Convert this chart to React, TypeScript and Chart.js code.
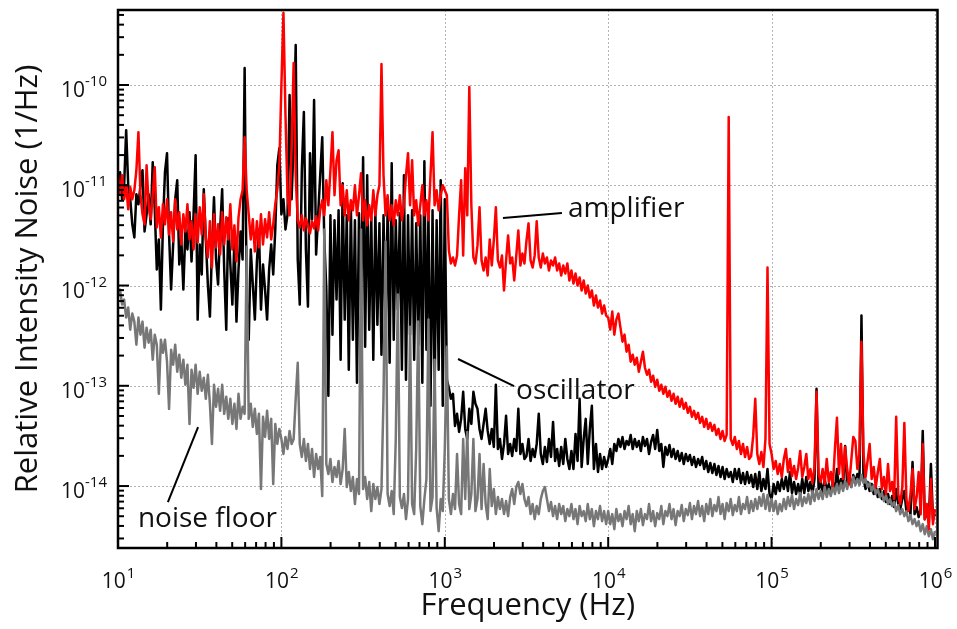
import { useEffect, useRef } from "react";
import { Chart, registerables } from "chart.js";

Chart.register(...registerables);

// Spectra are sampled at 80 points per decade; values are log10 of RIN (1/Hz).
const SAMPLES_PER_DECADE = 80;
const decadeStarts = [1, 2, 3, 4, 5]; // log10(Hz) at start of each decade block

// ---------- amplifier (red) ----------
const amplifierD1 = [
  -10.90, -11.09, -10.90, -11.14, -11.00, -11.24, -11.02, -11.14, -11.05, -10.85,
  -10.47, -11.09, -11.29, -11.39, -10.80, -11.19, -11.34, -11.09, -10.82, -11.42,
  -11.22, -11.52, -11.19, -11.39, -11.14, -11.49, -11.27, -11.56, -11.14, -11.44,
  -11.27, -11.59, -11.29, -11.46, -11.19, -11.54, -11.36, -11.64, -11.29, -11.57,
  -11.22, -11.49, -11.09, -11.52, -11.72, -11.36, -11.82, -11.29, -11.62, -11.39,
  -11.69, -11.27, -11.59, -11.32, -11.54, -11.19, -11.64, -11.40, -11.76, -11.32,
  -11.14, -11.05, -10.52, -11.05, -11.29, -11.54, -11.34, -11.66, -11.36, -11.62,
  -11.29, -11.59, -11.34, -11.52, -11.27, -11.54, -11.39, -11.19, -11.04, -10.80,
];
const amplifierD2 = [
  -10.00, -9.28, -10.30, -11.10, -11.30, -10.60, -9.78, -10.90, -11.35, -11.42,
  -11.30, -11.45, -11.33, -11.40, -11.48, -11.36, -11.43, -11.31, -11.45, -11.25,
  -11.15, -11.30, -10.95, -11.20, -10.85, -10.47, -11.10, -10.75, -10.65, -11.20,
  -11.00, -11.30, -11.05, -11.35, -11.15, -11.25, -11.00, -11.30, -11.10, -10.88,
  -11.35, -11.15, -11.40, -11.20, -11.35, -11.05, -11.30, -11.10, -11.00, -9.79,
  -10.90, -11.30, -11.10, -11.35, -11.20, -11.40, -11.15, -11.30, -11.10, -11.35,
  -11.20, -10.90, -10.68, -11.20, -10.75, -11.30, -11.15, -11.40, -11.20, -11.00,
  -11.30, -11.15, -11.35, -10.90, -10.47, -11.20, -11.05, -11.25, -11.10, -11.00,
];
const amplifierD3 = [
  -11.05, -11.10, -11.65, -11.78, -11.72, -11.80, -11.70, -11.30, -10.95, -11.70,
  -10.83, -11.30, -10.02, -11.20, -11.72, -11.78, -11.60, -11.22, -11.75, -11.85,
  -11.72, -11.90, -11.54, -11.80, -11.55, -11.22, -11.75, -11.82, -11.70, -12.05,
  -11.75, -11.50, -11.78, -11.72, -11.95, -11.70, -11.45, -11.80, -11.68, -11.78,
  -11.55, -11.38, -11.75, -11.82, -11.70, -11.36, -11.72, -11.82, -11.68, -11.78,
  -11.72, -11.85, -11.75, -11.80, -11.72, -11.85, -11.78, -11.90, -11.80, -11.88,
  -11.78, -11.95, -11.85, -11.98, -11.88, -12.00, -11.92, -12.05, -11.95, -12.08,
  -12.00, -12.12, -12.05, -12.20, -12.10, -12.22, -12.15, -12.28, -12.20, -12.30,
];
const amplifierD4 = [
  -12.32, -12.44, -12.26, -12.49, -12.34, -12.28, -12.42, -12.56, -12.49, -12.66,
  -12.59, -12.76, -12.69, -12.79, -12.72, -12.86, -12.76, -12.66, -12.82, -12.89,
  -12.84, -12.96, -12.90, -13.01, -12.94, -13.05, -12.99, -13.08, -13.01, -13.11,
  -13.05, -13.15, -13.08, -13.18, -13.11, -13.21, -13.13, -13.23, -13.17, -13.27,
  -13.21, -13.31, -13.25, -13.33, -13.27, -13.37, -13.31, -13.41, -13.33, -13.43,
  -13.37, -13.45, -13.39, -13.49, -13.43, -13.53, -13.45, -13.55, -13.49, -10.32,
  -13.53, -13.59, -13.51, -13.63, -13.55, -13.68, -13.58, -13.71, -13.61, -13.73,
  -13.70, -13.50, -13.13, -13.68, -13.78, -13.66, -13.81, -13.53, -11.82, -13.58,
];
const amplifierD5 = [
  -13.68, -13.83, -13.75, -13.88, -13.78, -13.91, -13.73, -13.63, -13.86, -13.73,
  -13.90, -13.80, -13.93, -13.82, -13.65, -13.91, -13.81, -13.68, -13.93, -13.83,
  -13.97, -13.81, -13.06, -13.88, -13.96, -13.83, -13.98, -13.73, -13.96, -13.86,
  -14.00, -13.63, -13.32, -13.88, -13.58, -13.93, -13.61, -13.83, -13.98, -13.75,
  -13.51, -13.55, -13.83, -13.68, -12.56, -13.68, -13.91, -13.75, -13.58, -13.93,
  -13.81, -14.01, -13.86, -13.73, -14.03, -13.91, -14.08, -13.78, -14.05, -13.96,
  -14.13, -13.31, -14.08, -14.18, -14.01, -13.37, -14.13, -14.25, -14.08, -13.83,
  -14.23, -14.11, -13.86, -14.28, -13.58, -14.33, -14.18, -14.43, -13.93, -14.38,
  -14.23,
];

// ---------- oscillator (black) ----------
const oscillatorD1 = [
  -11.04, -10.87, -11.14, -11.00, -10.45, -11.00, -11.14, -11.39, -11.52, -11.09,
  -11.19, -11.00, -10.85, -11.46, -11.29, -11.09, -11.39, -10.77, -11.24, -11.84,
  -11.54, -12.24, -11.39, -10.87, -10.68, -11.49, -12.04, -11.59, -11.14, -10.95,
  -11.79, -11.54, -12.04, -11.44, -11.64, -11.27, -11.76, -11.29, -10.70, -12.34,
  -11.59, -11.89, -11.04, -11.54, -11.99, -12.31, -11.64, -11.12, -11.74, -11.99,
  -11.44, -11.04, -11.84, -12.44, -11.33, -11.79, -12.19, -11.54, -12.36, -11.84,
  -11.46, -11.74, -9.83, -12.14, -12.54, -11.64, -11.99, -12.34, -11.76, -11.44,
  -12.24, -11.79, -12.04, -12.34, -11.84, -11.59, -11.89, -11.44, -10.80, -10.63,
];
const oscillatorD2 = [
  -11.29, -11.14, -11.44, -11.29, -10.10, -11.14, -10.55, -9.60, -11.74, -12.19,
  -10.85, -10.27, -11.64, -12.21, -10.68, -11.34, -10.15, -11.69, -11.29, -10.90,
  -10.52, -11.54, -12.04, -13.10, -11.30, -12.49, -11.35, -12.14, -11.25, -12.74,
  -10.98, -12.34, -11.30, -12.84, -11.20, -12.54, -11.35, -12.97, -11.28, -12.24,
  -10.72, -12.61, -10.90, -12.44, -11.32, -12.74, -11.25, -12.39, -11.38, -12.69,
  -11.30, -12.44, -11.25, -12.77, -10.78, -12.54, -11.35, -12.24, -11.28, -12.84,
  -10.90, -12.94, -11.30, -12.49, -11.25, -12.74, -11.38, -12.59, -11.30, -12.97,
  -10.76, -12.64, -11.30, -13.20, -11.25, -13.10, -11.35, -12.84, -10.95, -13.20,
];
const oscillatorD3 = [
  -11.14, -12.94, -13.02, -13.13, -13.08, -13.40, -13.28, -13.46, -13.33, -13.06,
  -13.43, -13.53, -13.23, -13.38, -13.06, -13.18, -13.23, -13.43, -13.53, -13.38,
  -13.23, -13.45, -13.58, -13.43, -13.61, -12.99, -13.63, -13.53, -13.73, -13.58,
  -13.30, -13.68, -13.58, -13.70, -13.53, -13.65, -13.23, -13.68, -13.58, -13.73,
  -13.70, -13.53, -13.75, -13.63, -13.71, -13.58, -13.28, -13.68, -13.78, -13.61,
  -13.76, -13.53, -13.71, -13.36, -13.75, -13.63, -13.80, -13.61, -13.78, -13.53,
  -13.73, -13.83, -13.65, -13.83, -13.48, -13.75, -13.13, -13.81, -13.53, -13.33,
  -13.78, -13.43, -13.20, -13.83, -13.58, -13.86, -13.68, -13.83, -13.71, -13.81,
];
const oscillatorD4 = [
  -13.73, -13.63, -13.78, -13.58, -13.65, -13.53, -13.61, -13.51, -13.63, -13.55,
  -13.59, -13.49, -13.63, -13.53, -13.61, -13.55, -13.65, -13.51, -13.60, -13.53,
  -13.68, -13.56, -13.49, -13.63, -13.44, -13.65, -13.58, -13.81, -13.61, -13.69,
  -13.59, -13.71, -13.63, -13.73, -13.65, -13.75, -13.67, -13.78, -13.68, -13.75,
  -13.69, -13.79, -13.71, -13.81, -13.73, -13.79, -13.71, -13.83, -13.75, -13.86,
  -13.77, -13.87, -13.78, -13.89, -13.80, -13.91, -13.81, -13.93, -13.83, -13.91,
  -13.86, -13.96, -13.83, -13.93, -13.83, -13.97, -13.87, -13.98, -13.86, -13.97,
  -13.89, -14.01, -13.88, -14.03, -13.86, -14.05, -13.93, -14.03, -13.83, -14.08,
];
const oscillatorD5 = [
  -14.13, -13.98, -14.08, -13.96, -14.05, -13.93, -14.03, -13.91, -14.05, -13.86,
  -14.07, -13.96, -14.08, -13.98, -14.09, -13.93, -14.07, -13.91, -14.05, -13.96,
  -14.08, -13.93, -13.03, -14.03, -13.96, -14.07, -13.93, -14.05, -13.98, -14.08,
  -13.96, -14.05, -13.83, -14.03, -13.93, -14.01, -13.60, -13.98, -13.91, -14.01,
  -13.89, -13.96, -13.88, -13.98, -12.30, -13.93, -14.03, -13.96, -14.05, -13.98,
  -14.08, -14.01, -14.11, -14.03, -14.13, -14.05, -14.16, -14.08, -14.18, -14.10,
  -14.21, -14.03, -14.18, -14.23, -14.13, -14.05, -14.25, -14.18, -14.28, -13.76,
  -14.28, -14.21, -14.31, -14.23, -13.45, -14.33, -14.25, -14.35, -13.78, -14.33,
  -14.28,
];

// ---------- noise floor (gray) ----------
const noiseFloorD1 = [
  -12.09, -12.04, -12.19, -12.14, -12.32, -12.22, -12.44, -12.28, -12.36, -12.59,
  -12.32, -12.49, -12.36, -12.62, -12.42, -12.57, -12.44, -12.74, -12.49, -12.59,
  -13.08, -12.54, -12.67, -12.54, -12.76, -13.23, -12.64, -12.79, -12.59, -12.86,
  -12.69, -12.92, -12.74, -12.99, -12.79, -13.38, -12.84, -13.02, -12.79, -13.08,
  -12.86, -13.05, -12.92, -13.13, -12.89, -13.18, -13.58, -12.99, -13.21, -13.03,
  -13.25, -12.99, -13.28, -13.11, -13.33, -13.13, -13.38, -13.18, -13.43, -13.08,
  -13.33, -13.21, -13.28, -11.61, -13.33, -13.18, -13.41, -13.23, -13.48, -13.28,
  -14.03, -13.31, -13.51, -13.25, -13.53, -13.33, -13.98, -13.38, -13.58, -13.43,
];
const noiseFloorD2 = [
  -13.53, -13.68, -13.51, -13.63, -13.45, -13.58, -13.53, -13.13, -12.77, -13.58,
  -13.71, -13.53, -13.75, -13.58, -13.83, -13.63, -13.91, -13.68, -13.83, -13.71,
  -14.10, -11.44, -13.78, -13.88, -13.73, -13.96, -13.81, -13.91, -13.75, -13.98,
  -13.83, -13.43, -14.01, -13.86, -14.05, -13.91, -14.18, -13.93, -14.08, -11.44,
  -14.03, -13.91, -14.13, -13.96, -14.25, -13.98, -14.13, -14.01, -14.18, -14.03,
  -13.11, -11.56, -14.08, -14.20, -14.05, -14.28, -13.53, -12.09, -14.11, -14.22,
  -14.08, -14.33, -14.13, -12.41, -14.18, -14.28, -13.63, -12.36, -14.20, -14.38,
  -14.13, -13.93, -12.34, -14.25, -14.11, -12.74, -14.22, -14.45, -14.13, -14.25,
];
const noiseFloorD3 = [
  -13.63, -12.61, -14.13, -14.28, -14.08, -14.23, -13.68, -14.18, -14.28, -13.53,
  -14.13, -13.46, -14.23, -14.08, -13.53, -14.25, -14.13, -13.68, -14.23, -13.78,
  -14.18, -14.33, -13.83, -14.20, -14.03, -14.28, -14.11, -14.23, -14.13, -14.28,
  -14.15, -14.30, -14.11, -14.03, -14.18, -14.01, -13.96, -14.08, -13.98, -14.13,
  -14.20, -14.11, -14.28, -14.18, -14.33, -14.20, -14.28, -14.13, -14.05, -14.01,
  -14.13, -14.25, -14.16, -14.30, -14.20, -14.33, -14.18, -14.28, -14.20, -14.35,
  -14.23, -14.30, -14.18, -14.33, -14.23, -14.38, -14.20, -14.30, -14.25, -14.35,
  -14.18, -14.33, -14.23, -14.40, -14.25, -14.33, -14.20, -14.35, -14.25, -14.38,
];
const noiseFloorD4 = [
  -14.25, -14.38, -14.28, -14.43, -14.23, -14.35, -14.28, -14.40, -14.25, -14.33,
  -14.20, -14.38, -14.28, -14.45, -14.25, -14.35, -14.23, -14.39, -14.28, -14.33,
  -14.18, -14.35, -14.25, -14.40, -14.27, -14.33, -14.20, -14.38, -14.25, -14.30,
  -14.18, -14.33, -14.23, -14.39, -14.25, -14.30, -14.19, -14.35, -14.23, -14.29,
  -14.17, -14.33, -14.20, -14.28, -14.15, -14.30, -14.20, -14.35, -14.18, -14.28,
  -14.13, -14.30, -14.19, -14.25, -14.11, -14.28, -14.18, -14.33, -14.17, -14.25,
  -14.13, -14.29, -14.19, -14.25, -14.11, -14.28, -14.18, -14.23, -14.11, -14.27,
  -14.15, -14.25, -14.13, -14.23, -14.11, -14.20, -14.08, -14.23, -14.09, -14.25,
];
const noiseFloorD5 = [
  -14.13, -14.25, -14.15, -14.28, -14.18, -14.25, -14.13, -14.23, -14.11, -14.20,
  -14.09, -14.23, -14.13, -14.19, -14.07, -14.20, -14.11, -14.17, -14.08, -14.18,
  -14.05, -14.15, -14.03, -14.13, -14.05, -14.13, -14.01, -14.11, -14.03, -14.10,
  -13.99, -14.08, -13.98, -14.07, -13.97, -14.05, -13.95, -14.03, -13.93, -14.01,
  -13.91, -13.99, -13.93, -13.99, -13.89, -13.97, -13.93, -14.01, -13.97, -14.05,
  -13.99, -14.08, -14.03, -14.11, -14.07, -14.15, -14.09, -14.18, -14.13, -14.20,
  -14.16, -14.25, -14.19, -14.28, -14.23, -14.30, -14.25, -14.35, -14.29, -14.38,
  -14.33, -14.40, -14.35, -14.45, -14.38, -14.48, -14.40, -14.50, -14.43, -14.53,
  -14.45,
];

// ---------- axes ----------
const xDecadeExponents = [1, 2, 3, 4, 5, 6];
const yDecadeExponents = [-14, -13, -12, -11, -10];
const xMin = 10;
const xMax = 1.036e6;
const yMin = 2.41e-15;
const yMax = 5.6e-10;
const xTitle = "Frequency (Hz)";
const yTitle = "Relative Intensity Noise (1/Hz)";

// ---------- annotations ----------
const labelTexts = ["amplifier", "oscillator", "noise floor"];
const labelFreqs = [5675, 2729, 13.24];
const labelLevels = [4.82e-12, 7.38e-14, 3.9e-15];
const leaderStartFreqs = [2270, 1205, 20.2];
const leaderStartLevels = [4.71e-12, 1.85e-13, 6.92e-15];
const leaderEndFreqs = [5212, 2655, 30.9];
const leaderEndLevels = [5.28e-12, 9.93e-14, 3.88e-14];

const FONT = "'Open Sans', 'DejaVu Sans', sans-serif";

function buildTrace(decades: number[][]) {
  const pts: { x: number; y: number }[] = [];
  decades.forEach((vals, d) => {
    vals.forEach((lv, i) => {
      pts.push({ x: Math.pow(10, decadeStarts[d] + i / SAMPLES_PER_DECADE), y: Math.pow(10, lv) });
    });
  });
  return pts;
}

const overlayPlugin = {
  id: "rinOverlay",
  beforeDatasetsDraw(chart: any) {
    const { ctx, chartArea: a, scales } = chart;
    const xs = scales.x;
    const ys = scales.y;
    ctx.save();
    ctx.strokeStyle = "#b4b4b4";
    ctx.lineWidth = 1;
    ctx.setLineDash([2, 2]);
    xDecadeExponents.forEach((e) => {
      if (e === 1) return;
      const x = Math.round(xs.getPixelForValue(Math.pow(10, e))) + 0.5;
      ctx.beginPath();
      ctx.moveTo(x, a.top);
      ctx.lineTo(x, a.bottom);
      ctx.stroke();
    });
    yDecadeExponents.forEach((e) => {
      const y = Math.round(ys.getPixelForValue(Math.pow(10, e))) + 0.5;
      ctx.beginPath();
      ctx.moveTo(a.left, y);
      ctx.lineTo(a.right, y);
      ctx.stroke();
    });
    ctx.restore();
  },
  afterDatasetsDraw(chart: any) {
    const { ctx, chartArea: a, scales } = chart;
    const xs = scales.x;
    const ys = scales.y;
    ctx.save();
    // ticks
    ctx.strokeStyle = "#000";
    ctx.lineWidth = 2;
    ctx.setLineDash([]);
    for (let e = 1; e <= 6; e++) {
      for (let k = 1; k <= 9; k++) {
        const v = k * Math.pow(10, e);
        if (v < xMin || v > xMax) continue;
        const x = xs.getPixelForValue(v);
        const len = k === 1 ? 11 : 6;
        ctx.beginPath();
        ctx.moveTo(x, a.bottom);
        ctx.lineTo(x, a.bottom - len);
        ctx.stroke();
      }
    }
    for (let e = -15; e <= -10; e++) {
      for (let k = 1; k <= 9; k++) {
        const v = k * Math.pow(10, e);
        if (v < yMin || v > yMax) continue;
        const y = ys.getPixelForValue(v);
        const len = k === 1 ? 11 : 6;
        ctx.beginPath();
        ctx.moveTo(a.left, y);
        ctx.lineTo(a.left + len, y);
        ctx.stroke();
      }
    }
    // border
    ctx.lineWidth = 2.5;
    ctx.strokeRect(a.left, a.top, a.right - a.left, a.bottom - a.top);

    // tick labels
    ctx.fillStyle = "#111";
    ctx.textBaseline = "alphabetic";
    const baseFont = `21px ${FONT}`;
    const supFont = `15px ${FONT}`;
    yDecadeExponents.forEach((e) => {
      const y = ys.getPixelForValue(Math.pow(10, e));
      const sup = `-${-e}`;
      ctx.font = supFont;
      const sw = ctx.measureText(sup).width;
      ctx.textAlign = "right";
      ctx.fillText(sup, a.left - 11, y + 1);
      ctx.font = baseFont;
      ctx.fillText("10", a.left - 11 - sw, y + 12);
    });
    xDecadeExponents.forEach((e) => {
      const x = xs.getPixelForValue(Math.pow(10, e));
      const sup = `${e}`;
      ctx.font = baseFont;
      const bw = ctx.measureText("10").width;
      ctx.font = supFont;
      const sw = ctx.measureText(sup).width;
      const start = x - (bw + sw) / 2;
      ctx.textAlign = "left";
      ctx.font = baseFont;
      ctx.fillText("10", start, a.bottom + 40);
      ctx.font = supFont;
      ctx.fillText(sup, start + bw + 1, a.bottom + 30);
    });

    // axis titles
    ctx.font = `31px ${FONT}`;
    ctx.textAlign = "center";
    ctx.fillText(xTitle, (a.left + a.right) / 2, a.bottom + 67);
    ctx.save();
    ctx.translate(37, (a.top + a.bottom) / 2);
    ctx.rotate(-Math.PI / 2);
    ctx.fillText(yTitle, 0, 0);
    ctx.restore();

    // annotations
    ctx.strokeStyle = "#000";
    ctx.lineWidth = 2;
    ctx.font = `28px ${FONT}`;
    ctx.textAlign = "left";
    labelTexts.forEach((t, i) => {
      ctx.beginPath();
      ctx.moveTo(xs.getPixelForValue(leaderStartFreqs[i]), ys.getPixelForValue(leaderStartLevels[i]));
      ctx.lineTo(xs.getPixelForValue(leaderEndFreqs[i]), ys.getPixelForValue(leaderEndLevels[i]));
      ctx.stroke();
      ctx.fillText(t, xs.getPixelForValue(labelFreqs[i]), ys.getPixelForValue(labelLevels[i]));
    });
    ctx.restore();
  },
};

export default function App() {
  const ref = useRef<HTMLCanvasElement>(null);
  useEffect(() => {
    const canvas = ref.current;
    if (!canvas) return;
    const common = {
      pointRadius: 0,
      borderWidth: 2.5,
      borderJoinStyle: "round" as const,
      fill: false,
      tension: 0,
    };
    const chart = new Chart(canvas, {
      type: "line",
      data: {
        datasets: [
          {
            label: "amplifier",
            data: buildTrace([amplifierD1, amplifierD2, amplifierD3, amplifierD4, amplifierD5]),
            borderColor: "#ff0000",
            order: 0,
            ...common,
          },
          {
            label: "noise floor",
            data: buildTrace([noiseFloorD1, noiseFloorD2, noiseFloorD3, noiseFloorD4, noiseFloorD5]),
            borderColor: "#777777",
            order: 1,
            ...common,
          },
          {
            label: "oscillator",
            data: buildTrace([oscillatorD1, oscillatorD2, oscillatorD3, oscillatorD4, oscillatorD5]),
            borderColor: "#000000",
            order: 2,
            ...common,
          },
        ],
      },
      options: {
        animation: false,
        responsive: false,
        devicePixelRatio: 1,
        parsing: false,
        normalized: true,
        layout: { padding: { left: 118, top: 10, right: 19.5, bottom: 81 } },
        scales: {
          x: { type: "logarithmic", min: xMin, max: xMax, display: false },
          y: { type: "logarithmic", min: yMin, max: yMax, display: false },
        },
        plugins: { legend: { display: false }, tooltip: { enabled: false } },
        events: [],
      },
      plugins: [overlayPlugin],
    });
    return () => chart.destroy();
  }, []);
  return (
    <div style={{ position: "fixed", left: 0, top: 0, width: 957, height: 629, background: "#fff" }}>
      <canvas ref={ref} width={957} height={629} style={{ display: "block", width: 957, height: 629 }} />
    </div>
  );
}
